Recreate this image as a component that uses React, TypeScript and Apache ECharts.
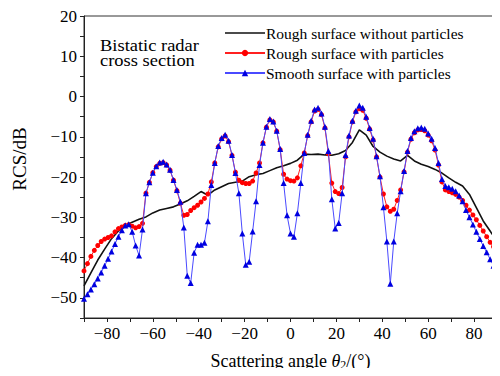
import React, { useEffect, useRef } from "react";
import * as echarts from "echarts";

// Scattering angle grid (deg) for the marker series: -90 .. 90 every 1.5 deg
const markerAngles: number[] = Array.from({ length: 121 }, (_, i) => -90 + i * 1.5);
// Angle grid (deg) for the rough-surface-without-particles line: -90 .. 90 every 3 deg
const lineAngles: number[] = Array.from({ length: 61 }, (_, i) => -90 + i * 3);

const roughNoParticles: number[] = [
  -47, -43.8, -40.6, -37.9, -35.3, -33.4, -32.1, -31.2, -30.5, -29.9,
  -28.9, -28.2, -27.8, -27.4, -26.7, -25.9, -24.8, -23.6, -24.5, -23.2,
  -22.4, -21.6, -21.3, -21, -19.9, -19.4, -19.1, -18.4, -17.7, -17.2,
  -16.6, -15.8, -14.3, -14.4, -14.3, -14.5, -14.6, -14.2, -13.4, -11.4,
  -8.3, -9.6, -12.4, -13.8, -14.8, -15.5, -16, -14.6, -16, -16.8,
  -17.4, -18.1, -19, -20.2, -21.3, -22.2, -24.3, -27.6, -30.9, -33.4,
  -36,
];

const roughWithParticles: number[] = [
  -43.3, -41.5, -39.7, -38.2, -37, -36, -35.4, -35, -34.6, -33.6,
  -32.8, -32.4, -32, -31.8, -32.2, -32.6, -32.3, -31.5, -24, -21.3,
  -18.9, -17.4, -16.6, -16.4, -17, -18.3, -20.8, -23.4, -26.5, -29.5,
  -29.3, -28.3, -27.6, -27, -26.2, -25.3, -24.2, -21.2, -16.5, -12.5,
  -10.5, -9.8, -11.2, -14.6, -18.8, -20.8, -21.4, -21.6, -21.6, -21,
  -19, -16.5, -11.5, -7.6, -5.8, -6.3, -8.6, -13.2, -19.3, -20.5,
  -20.9, -21, -20.2, -17.2, -14, -9.7, -6.3, -3.6, -3.2, -4.5,
  -7.8, -14.2, -21.5, -23.6, -24.1, -22.6, -15, -10, -6.3, -3.8,
  -3, -3.4, -5.4, -8.1, -10.8, -15, -20, -24.2, -27.4, -28.5,
  -28, -25.8, -23.2, -18.7, -13.8, -10.6, -9, -8.3, -8.2, -8.5,
  -9.6, -11, -13.3, -17, -21.2, -23.2, -23.6, -23.9, -24.3, -25,
  -25.8, -27, -28.2, -29.4, -30.6, -32, -33.4, -34.8, -36.2, -37.3,
  -38.3,
];

const smoothWithParticles: number[] = [
  -50.2, -49.1, -47.9, -46.6, -45.2, -43.7, -42, -40.3, -38.5, -36.6,
  -34.8, -33.2, -32, -31.7, -33.6, -37, -39.5, -33, -24, -21.3,
  -18.9, -17.3, -16.4, -16.2, -16.9, -18.2, -20.7, -23.2, -26.1, -32.5,
  -44.5, -46.3, -38.8, -36.8, -36.8, -36.3, -31, -22, -16.5, -12.3,
  -10.3, -9.5, -11, -14.5, -19, -24, -34, -41.8, -41, -33.5,
  -26, -17, -11.5, -7.5, -5.6, -6.2, -8.5, -13, -21.5, -29.5,
  -34, -34.8, -29, -21.5, -14, -9.5, -6, -3.2, -2.8, -4.2,
  -7.5, -13.5, -25.5, -32.8, -31.4, -24, -14.5, -9.7, -6, -3.5,
  -2.2, -2.8, -5, -7.8, -10.5, -14.8, -19.8, -27.5, -36, -46.5,
  -36, -29, -23.5, -18.5, -13.5, -10.3, -8.6, -7.9, -7.7, -8,
  -9.2, -10.5, -12.8, -16.5, -20.5, -22.2, -22.5, -22.9, -23.5, -24.6,
  -26, -28.2, -30, -31.8, -33.6, -35.4, -37.1, -38.7, -40.4, -42,
  -43.5,
];

const seriesNames = [
  "Rough surface without particles",
  "Rough surface with particles",
  "Smooth surface with particles",
];

const annotationLines = ["Bistatic radar", "cross section"];

const FONT = '"Liberation Serif", "Times New Roman", "DejaVu Serif", serif';

const fmtMinus = (v: number) => (v < 0 ? "\u2212" + Math.abs(v) : String(v));

// thin line legend icon (tiny corner marks keep the 40x8 bounding box so the bar stays thin)
const LINE_ICON =
  "path://M0,0h0.05v0.05h-0.05z M0,3.3h40v1.5h-40z M39.95,7.95h0.05v0.05h-0.05z";

export default function App() {
  const ref = useRef<HTMLDivElement>(null);

  useEffect(() => {
    if (!ref.current) return;
    const chart = echarts.init(ref.current, undefined, { renderer: "svg" });
    const pairs = (xs: number[], ys: number[]) => ys.map((y, i) => [xs[i], y]);

    chart.setOption({
      animation: false,
      backgroundColor: "#ffffff",
      textStyle: { fontFamily: FONT, color: "#000" },
      graphic: annotationLines.map((t, i) => ({
        type: "text",
        x: 100,
        y: 45 + i * 15.5,
        scaleX: 1.12,
        style: {
          text: t,
          fill: "#000",
          font: `16.5px ${FONT}`,
          textVerticalAlign: "middle",
          textAlign: "left",
        },
      })),
      legend: {
        orient: "vertical",
        left: 224,
        top: 25,
        padding: 0,
        itemWidth: 40,
        itemHeight: 8,
        itemGap: 4,
        textStyle: { fontFamily: FONT, fontSize: 15.5, color: "#000", padding: [0, 0, 0, -4] },
        data: [
          { name: seriesNames[0], icon: LINE_ICON, itemStyle: { color: "#111" } },
          { name: seriesNames[1] },
          { name: seriesNames[2] },
        ],
      },
      grid: {
        left: 84,
        right: 1,
        top: 16,
        bottom: 53,
        show: true,
        borderColor: "#333",
        borderWidth: 1,
        backgroundColor: "transparent",
      },
      xAxis: {
        type: "value",
        min: -90,
        max: 90,
        interval: 10,
        name: "Scattering angle {it|\u03b8}{sub|2}/(\u00b0)",
        nameLocation: "middle",
        nameGap: 33,
        nameTextStyle: {
          fontFamily: FONT,
          fontSize: 18,
          color: "#000",
          lineHeight: 20,
          rich: {
            it: { fontFamily: FONT, fontSize: 18, fontStyle: "italic", color: "#000", lineHeight: 20 },
            sub: { fontFamily: FONT, fontSize: 12, color: "#000", lineHeight: 12, verticalAlign: "bottom" },
          },
        },
        axisLine: { onZero: false, lineStyle: { color: "#222", width: 1 } },
        axisTick: { show: true, length: 4, lineStyle: { color: "#222" } },
        splitLine: { show: false },
        axisLabel: {
          fontFamily: FONT,
          fontSize: 17,
          color: "#000",
          margin: 7,
          formatter: (v: number) => (v % 20 === 0 && Math.abs(v) < 90 ? fmtMinus(v) : ""),
        },
      },
      yAxis: {
        type: "value",
        min: -55,
        max: 20,
        interval: 5,
        name: "RCS/dB",
        nameLocation: "middle",
        nameGap: 55,
        nameRotate: 90,
        nameTextStyle: { fontFamily: FONT, fontSize: 19, color: "#000", padding: [0, 0, 0, 16] },
        axisLine: { show: true, onZero: false, lineStyle: { color: "#222", width: 1 } },
        axisTick: { show: true, length: 4, lineStyle: { color: "#222" } },
        splitLine: { show: false },
        axisLabel: {
          fontFamily: FONT,
          fontSize: 17,
          color: "#000",
          margin: 7,
          formatter: (v: number) => (v % 10 === 0 ? fmtMinus(v) : ""),
        },
      },
      series: [
        {
          name: seriesNames[0],
          type: "line",
          data: pairs(lineAngles, roughNoParticles),
          symbol: "none",
          lineStyle: { color: "#111", width: 1.6 },
          itemStyle: { color: "#111" },
          z: 3,
        },
        {
          name: seriesNames[1],
          type: "line",
          data: pairs(markerAngles, roughWithParticles),
          symbol: "circle",
          symbolSize: 5,
          showAllSymbol: true,
          lineStyle: { color: "#ff2020", width: 1 },
          itemStyle: { color: "#ff0000" },
          z: 4,
        },
        {
          name: seriesNames[2],
          type: "line",
          data: pairs(markerAngles, smoothWithParticles),
          symbol: "triangle",
          symbolSize: 6,
          showAllSymbol: true,
          lineStyle: { color: "#4a4aff", width: 1 },
          itemStyle: { color: "#0000e0" },
          z: 5,
        },
      ],
    });

    return () => chart.dispose();
  }, []);

  return <div ref={ref} style={{ width: 500, height: 376, margin: -8 }} />;
}
